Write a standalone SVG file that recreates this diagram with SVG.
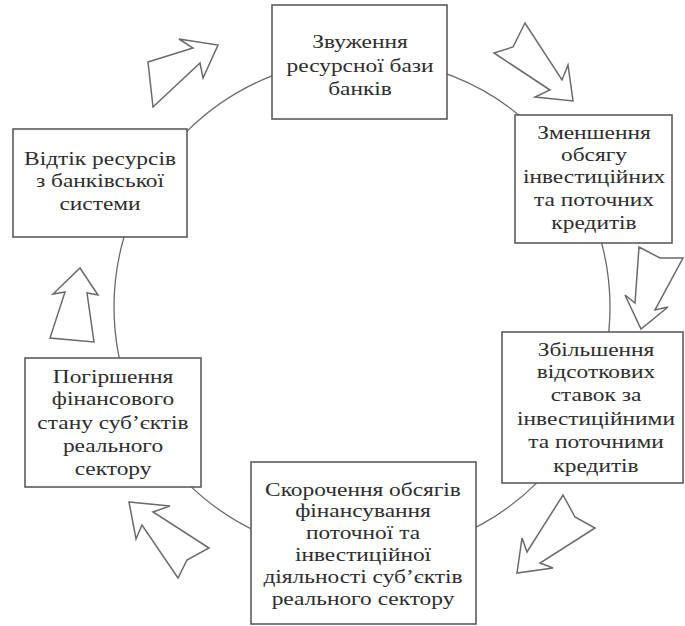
<svg xmlns="http://www.w3.org/2000/svg" width="685" height="626" viewBox="0 0 685 626">
<style>
.box{fill:#fff;stroke:#5c5c5c;stroke-width:1.6}
.ring{fill:none;stroke:#6a6a6a;stroke-width:1.3}
.arr{fill:#fff;stroke:#6a6a6a;stroke-width:1.5;stroke-linejoin:miter}
text{font-family:"Liberation Serif","Times New Roman",serif;font-size:19.5px;fill:#2e2e2e;text-anchor:middle}
</style>
<rect width="685" height="626" fill="#fff"/>
<g id="connectors">
<circle class="ring" cx="362" cy="307" r="248"/>
<polygon class="arr" points="148,62 193,48 179,39 218,45 203,78 200,63 153,107"/>
<polygon class="arr" points="525,23 513,47 494,53 550,90 535,97 573,101 568,65 562,80"/>
<polygon class="arr" points="639,247 660,258 683,258 655,310 668,307 641,329 625,295 635,303"/>
<polygon class="arr" points="563,495 575,517 595,528 540,563 553,568 517,573 522,538 527,552"/>
<polygon class="arr" points="129,502 170,506 153,512 209,548 187,560 178,578 142,525 136,539"/>
<polygon class="arr" points="80,268 98,295 87,293 94,342 50,338 65,292 53,294"/>
</g>
<g id="node1">
<rect class="box" x="272" y="5" width="175" height="114"/>
<g transform="translate(360,0) scale(1.2,1)">
<text x="0" y="48">Звуження</text>
<text x="0" y="72">ресурсної бази</text>
<text x="0" y="95">банків</text>
</g>
</g>
<g id="node2">
<rect class="box" x="515" y="115" width="157" height="128"/>
<g transform="translate(594,0) scale(1.2,1)">
<text x="0" y="139">Зменшення</text>
<text x="0" y="161">обсягу</text>
<text x="0" y="183">інвестиційних</text>
<text x="0" y="206">та поточних</text>
<text x="0" y="229">кредитів</text>
</g>
</g>
<g id="node3">
<rect class="box" x="502" y="332" width="181" height="151"/>
<g transform="translate(596,0) scale(1.2,1)">
<text x="0" y="356">Збільшення</text>
<text x="0" y="378">відсоткових</text>
<text x="0" y="401">ставок за</text>
<text x="0" y="425">інвестиційними</text>
<text x="0" y="448">та поточними</text>
<text x="0" y="472">кредитів</text>
</g>
</g>
<g id="node4">
<rect class="box" x="251" y="462" width="225" height="162"/>
<g transform="translate(363,0) scale(1.2,1)">
<text x="0" y="496">Скорочення обсягів</text>
<text x="0" y="517">фінансування</text>
<text x="0" y="539">поточної та</text>
<text x="0" y="561">інвестиційної</text>
<text x="0" y="583">діяльності суб’єктів</text>
<text x="0" y="605">реального сектору</text>
</g>
</g>
<g id="node5">
<rect class="box" x="25" y="358" width="176" height="129"/>
<g transform="translate(113,0) scale(1.2,1)">
<text x="0" y="383">Погіршення</text>
<text x="0" y="405">фінансового</text>
<text x="0" y="429">стану суб’єктів</text>
<text x="0" y="452">реального</text>
<text x="0" y="475">сектору</text>
</g>
</g>
<g id="node6">
<rect class="box" x="13" y="129" width="174" height="108"/>
<g transform="translate(100,0) scale(1.2,1)">
<text x="0" y="165">Відтік ресурсів</text>
<text x="0" y="187">з банківської</text>
<text x="0" y="210">системи</text>
</g>
</g>
</svg>
